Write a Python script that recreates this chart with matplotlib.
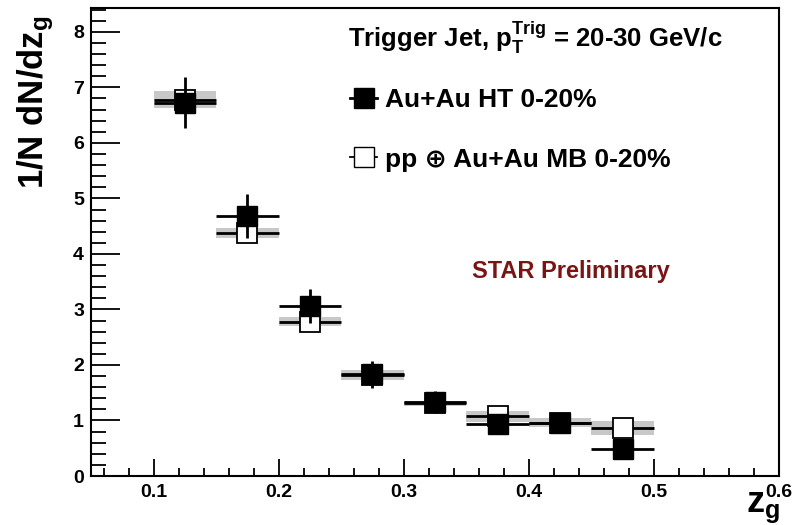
import numpy as np
import matplotlib
matplotlib.use('Agg')
import matplotlib.pyplot as plt
from matplotlib.lines import Line2D

plt.rcParams['font.family'] = ['Liberation Sans', 'DejaVu Sans']
plt.rcParams['font.weight'] = 'bold'
plt.rcParams['mathtext.fontset'] = 'custom'
plt.rcParams['mathtext.rm'] = 'Liberation Sans:bold'
plt.rcParams['mathtext.it'] = 'Liberation Sans:bold'
plt.rcParams['mathtext.bf'] = 'Liberation Sans:bold'

# z_g bins
zg = [0.125, 0.175, 0.225, 0.275, 0.325, 0.375, 0.425, 0.475]
bin_half = 0.025

# Au+Au HT 0-20%
ht = [6.72, 4.68, 3.06, 1.83, 1.33, 0.93, 0.95, 0.48]
ht_err = [0.46, 0.40, 0.30, 0.24, 0.20, 0.10, 0.08, 0.07]

# pp (+) Au+Au MB 0-20%
pp = [6.78, 4.38, 2.78, 1.82, 1.31, 1.08, 0.96, 0.86]
pp_err = [0.05, 0.05, 0.04, 0.03, 0.03, 0.03, 0.03, 0.03]
pp_sys = [0.16, 0.09, 0.08, 0.09, 0.05, 0.10, 0.08, 0.13]

fig = plt.figure(figsize=(8.01, 5.25), dpi=100)
ax = fig.add_axes([0.1136, 0.0933, 0.8589, 0.8915])

# systematic bands
ax.bar(zg, 2 * np.array(pp_sys), bottom=np.array(pp) - np.array(pp_sys),
       width=2 * bin_half, color='#c8c8c8', edgecolor='none', zorder=1)

ax.errorbar(zg, pp, yerr=pp_err, xerr=bin_half, fmt='s', ms=15,
            mfc='white', mec='black', mew=1.3, color='black',
            elinewidth=2, capsize=0, zorder=2)
ax.errorbar(zg, ht, yerr=ht_err, xerr=bin_half, fmt='s', ms=15,
            mfc='black', mec='black', color='black',
            elinewidth=2, capsize=0, zorder=3)

ax.set_xlim(0.05, 0.6)
ax.set_ylim(0, 8.43)
ax.set_xticks(np.arange(0.1, 0.61, 0.1))
ax.set_xticks(np.arange(0.06, 0.6, 0.02), minor=True)
ax.set_xticklabels(['0.1', '0.2', '0.3', '0.4', '0.5', '0.6'])
ax.set_yticks(range(0, 9))
ax.set_yticks(np.arange(0, 8.43, 0.2), minor=True)
ax.tick_params(axis='both', which='both', direction='in', labelsize=14,
               width=1.3, right=False, top=False)
ax.tick_params(axis='y', which='major', length=21, pad=5)
ax.tick_params(axis='y', which='minor', length=11)
ax.tick_params(axis='x', which='major', length=12, pad=6)
ax.tick_params(axis='x', which='minor', length=6)
for s in ax.spines.values():
    s.set_linewidth(1.5)

ax.set_ylabel('1/N dN/dz$_\\mathrm{g}$', fontsize=25, fontweight='bold')
ax.yaxis.label.set_va('baseline')
ax.yaxis.set_label_coords(-0.07, 0.799)
ax.text(0.952, -0.077, 'z$_\\mathrm{g}$', transform=ax.transAxes, fontsize=26,
        fontweight='bold', ha='left', va='baseline')

ax.text(0.3735, 0.9167, 'Trigger Jet, p$_\\mathrm{T}^\\mathrm{Trig}$ = 20-30 GeV/c',
        transform=ax.transAxes, fontsize=18.5, fontweight='bold', va='baseline')
ax.text(0.5538, 0.436, 'STAR Preliminary', transform=ax.transAxes,
        fontsize=17, fontweight='bold', color='#7b1515', va='center')

handles = [Line2D([], [], color='black', lw=2, marker='s', ms=15, mfc='black', mec='black'),
           Line2D([], [], color='black', lw=1.3, marker='s', ms=15, mfc='white', mec='black')]
ax.legend(handles, ['Au+Au HT 0-20%', 'pp \u2295 Au+Au MB 0-20%'],
          loc='upper left', bbox_to_anchor=(0.377, 0.829), frameon=False,
          borderaxespad=0, borderpad=0,
          handlelength=1.0, handletextpad=0.3, labelspacing=1.35,
          prop={'weight': 'bold', 'size': 19})

fig.savefig('out.png', dpi=100)
